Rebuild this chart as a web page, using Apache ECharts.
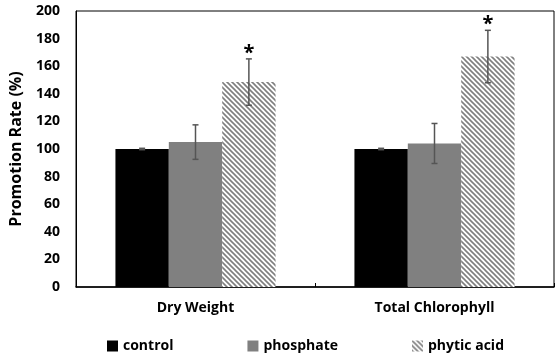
<!DOCTYPE html>
<html>
<head>
<meta charset="utf-8">
<script src="https://cdn.jsdelivr.net/npm/echarts@6/dist/echarts.min.js"></script>
<style>
  html, body { margin: 0; padding: 0; background: #fff; }
  #chart { width: 559px; height: 356px; }
</style>
</head>
<body>
<div id="chart"></div>
<script>
// data
const categories = ['Dry Weight', 'Total Chlorophyll']
const seriesNames = ['control', 'phosphate', 'phytic acid']
const control = [100, 100]
const phosphate = [105, 104]
const phyticAcid = [148.5, 167]
const controlErr = [0.5, 0.5]
const phosphateErr = [12.5, 14.5]
const phyticAcidErr = [16.8, 19]
const phyticAcidMark = ['*', '*']
const yTicks = [0, 20, 40, 60, 80, 100, 120, 140, 160, 180, 200]

const font = '"Open Sans"'
const gapRatio = 0.33

// diagonal hatch for phytic acid
const hatch = document.createElement('canvas')
hatch.width = 5
hatch.height = 5
const hctx = hatch.getContext('2d')
hctx.fillStyle = '#fff'
hctx.fillRect(0, 0, 5, 5)
hctx.strokeStyle = '#7f7f7f'
hctx.lineWidth = 1.6
hctx.beginPath()
hctx.moveTo(-1, -1); hctx.lineTo(6, 6)
hctx.moveTo(4, -1); hctx.lineTo(6, 1)
hctx.moveTo(-1, 4); hctx.lineTo(1, 6)
hctx.stroke()
const hatchColor = { image: hatch, repeat: 'repeat' }

// error bar items: [category index, value, error, series index, mark]
const errData = []
;[[control, controlErr, null], [phosphate, phosphateErr, null], [phyticAcid, phyticAcidErr, phyticAcidMark]]
  .forEach(([vals, errs, marks], s) => {
    vals.forEach((v, i) => errData.push([i, v, errs[i], s, marks ? marks[i] : '']))
  })

const chart = echarts.init(document.getElementById('chart'))

const option = {
  animation: false,
  grid: {
    left: 72, right: 5, top: 11, bottom: 69,
    show: true, borderColor: '#000', borderWidth: 1
  },
  legend: {
    data: seriesNames,
    left: 102,
    top: 334,
    itemWidth: 11,
    itemHeight: 11,
    itemGap: 74,
    icon: 'rect',
    textStyle: { fontFamily: font, fontWeight: 'bold', fontSize: 14, color: '#000' }
  },
  xAxis: {
    type: 'category',
    data: categories,
    axisLine: { lineStyle: { color: '#000', width: 1.5 } },
    axisTick: { show: true, inside: true, length: 4, lineStyle: { color: '#000' } },
    axisLabel: { margin: 14, fontFamily: font, fontWeight: 'bold', fontSize: 14, color: '#000' }
  },
  yAxis: {
    type: 'value',
    min: yTicks[0],
    max: yTicks[yTicks.length - 1],
    interval: yTicks[1] - yTicks[0],
    name: 'Promotion Rate (%)',
    nameLocation: 'middle',
    nameGap: 52,
    nameTextStyle: { fontFamily: font, fontWeight: 'bold', fontSize: 16, color: '#000' },
    axisLine: { show: true, lineStyle: { color: '#000' } },
    axisTick: { show: false },
    splitLine: { show: false },
    axisLabel: { margin: 16, fontFamily: font, fontWeight: 'bold', fontSize: 14, color: '#000' }
  },
  series: [
    {
      name: 'control', type: 'bar', data: control,
      barGap: 0, barCategoryGap: (gapRatio * 100) + '%',
      itemStyle: { color: '#000' }
    },
    {
      name: 'phosphate', type: 'bar', data: phosphate,
      barGap: 0, barCategoryGap: (gapRatio * 100) + '%',
      itemStyle: { color: '#808080' }
    },
    {
      name: 'phytic acid', type: 'bar', data: phyticAcid,
      barGap: 0, barCategoryGap: (gapRatio * 100) + '%',
      itemStyle: { color: hatchColor }
    },
    {
      type: 'custom',
      data: errData,
      z: 10,
      silent: true,
      encode: { x: 0, y: 1 },
      renderItem: (params, api) => {
        const cat = api.value(0)
        const val = api.value(1)
        const err = api.value(2)
        const s = api.value(3)
        const mark = errData[params.dataIndex][4]
        const band = api.size([1, 0])[0]
        const barW = band * (1 - gapRatio) / 3
        const x = api.coord([cat, val])[0] + (s - 1) * barW
        const yHi = api.coord([cat, val + err])[1]
        const yLo = api.coord([cat, val - err])[1]
        const cap = 3
        const style = { stroke: '#555', lineWidth: 1.5 }
        const children = [
          { type: 'line', shape: { x1: x, y1: yHi, x2: x, y2: yLo }, style },
          { type: 'line', shape: { x1: x - cap, y1: yHi, x2: x + cap, y2: yHi }, style },
          { type: 'line', shape: { x1: x - cap, y1: yLo, x2: x + cap, y2: yLo }, style }
        ]
        if (mark) {
          children.push({
            type: 'text',
            style: {
              text: mark, x: x, y: yHi - 6,
              align: 'center', verticalAlign: 'middle',
              font: 'bold 20px ' + font, fill: '#000'
            }
          })
        }
        return { type: 'group', children }
      }
    }
  ]
}

chart.setOption(option)
</script>
</body>
</html>
